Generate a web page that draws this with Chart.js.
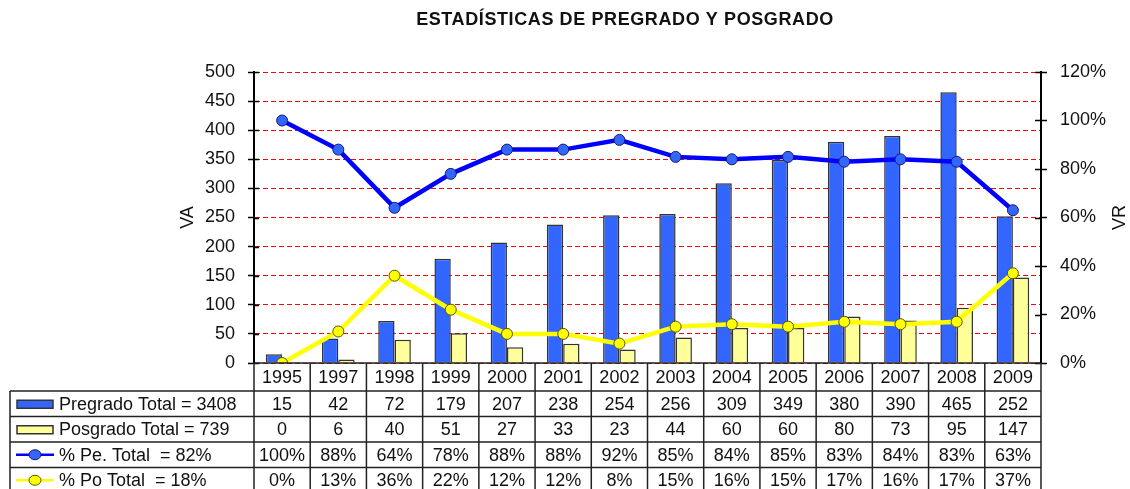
<!DOCTYPE html>
<html>
<head>
<meta charset="utf-8">
<title>Estadísticas de pregrado y posgrado</title>
<script src="https://cdn.jsdelivr.net/npm/chart.js@4.4.1/dist/chart.umd.min.js"></script>
<style>
  html, body { margin: 0; padding: 0; background: #fff; }
  #wrap { width: 1130px; height: 489px; }
</style>
</head>
<body>
<div id="wrap"><canvas id="statsChart"></canvas></div>
<script>
const chartTitle = 'ESTADÍSTICAS DE PREGRADO Y POSGRADO';
const years = ['1995', '1997', '1998', '1999', '2000', '2001', '2002', '2003', '2004', '2005', '2006', '2007', '2008', '2009'];
const pregrado = [15, 42, 72, 179, 207, 238, 254, 256, 309, 349, 380, 390, 465, 252];
const posgrado = [0, 6, 40, 51, 27, 33, 23, 44, 60, 60, 80, 73, 95, 147];
const pctPregrado = [100, 88, 64, 78, 88, 88, 92, 85, 84, 85, 83, 84, 83, 63];
const pctPosgrado = [0, 13, 36, 22, 12, 12, 8, 15, 16, 15, 17, 16, 17, 37];
const rowLabels = ['Pregrado Total = 3408', 'Posgrado Total = 739', '% Pe. Total  = 82%', '% Po Total  = 18%'];

const FONT = '"Liberation Sans", Arial, sans-serif';
const FONT_SIZE = 18;
const BLUE = '#3366FF';
const YELLOW_BAR = '#FFFF99';
const LINE_BLUE = '#0000FF';
const LINE_YELLOW = '#FFFF00';

// title, right axis caption, inner tick marks and the data table under the plot
const extras = {
    id: 'extras',
    afterDraw(chart) {
        const ctx = chart.ctx;
        const area = chart.chartArea;
        const xs = chart.scales.x;
        const colW = (area.right - area.left) / years.length;

        ctx.save();
        ctx.fillStyle = '#111';
        ctx.font = 'bold 18px ' + FONT;
        ctx.textAlign = 'center';
        ctx.textBaseline = 'middle';
        ctx.letterSpacing = '0.6px';
        ctx.fillText(chartTitle, 625, 20);
        ctx.letterSpacing = '0px';

        // VR reads bottom to top like VA
        ctx.save();
        ctx.translate(1120, (area.top + area.bottom) / 2);
        ctx.rotate(-Math.PI / 2);
        ctx.font = FONT_SIZE + 'px ' + FONT;
        ctx.fillText('VR', 0, 0);
        ctx.restore();

        // tick marks cross both axes
        ctx.strokeStyle = '#000';
        ctx.lineWidth = 1.5;
        ctx.beginPath();
        chart.scales.y.ticks.forEach(t => {
            const py = Math.round(chart.scales.y.getPixelForValue(t.value)) + 0.5;
            ctx.moveTo(area.left, py);
            ctx.lineTo(area.left + 5, py);
        });
        chart.scales.yR.ticks.forEach(t => {
            const py = Math.round(chart.scales.yR.getPixelForValue(t.value)) + 0.5;
            ctx.moveTo(area.right - 6, py);
            ctx.lineTo(area.right, py);
        });
        ctx.stroke();

        const rowH = [28, 25.5, 25.5, 25.5, 25.5];
        const rowY = [area.bottom];
        rowH.forEach(h => rowY.push(rowY[rowY.length - 1] + h));
        const tableLeft = 10;

        ctx.strokeStyle = '#222';
        ctx.lineWidth = 1.5;
        ctx.beginPath();
        // horizontal rules
        ctx.moveTo(area.left, rowY[0]);
        ctx.lineTo(area.right, rowY[0]);
        for (let r = 1; r < rowY.length; r++) {
            ctx.moveTo(tableLeft, rowY[r]);
            ctx.lineTo(area.right, rowY[r]);
        }
        // vertical rules
        ctx.moveTo(tableLeft, rowY[1]);
        ctx.lineTo(tableLeft, rowY[rowY.length - 1]);
        for (let i = 0; i <= years.length; i++) {
            const cx = i < years.length ? xs.getPixelForValue(i) - colW / 2 : area.right;
            ctx.moveTo(cx, rowY[0]);
            ctx.lineTo(cx, rowY[rowY.length - 1]);
        }
        ctx.stroke();

        const rows = [
            years,
            pregrado,
            posgrado,
            pctPregrado.map(v => v + '%'),
            pctPosgrado.map(v => v + '%')
        ];
        ctx.fillStyle = '#111';
        ctx.font = FONT_SIZE + 'px ' + FONT;
        ctx.textAlign = 'center';
        ctx.textBaseline = 'middle';
        rows.forEach((vals, r) => {
            const cy = (rowY[r] + rowY[r + 1]) / 2 + 1;
            vals.forEach((v, i) => ctx.fillText(String(v), xs.getPixelForValue(i), cy));
        });

        // row captions with their keys
        ctx.textAlign = 'left';
        rowLabels.forEach((label, k) => {
            const cy = (rowY[k + 1] + rowY[k + 2]) / 2 + 1;
            ctx.fillStyle = '#111';
            ctx.fillText(label, 59, cy);
            ctx.lineWidth = 1.5;
            if (k < 2) {
                ctx.fillStyle = k === 0 ? BLUE : YELLOW_BAR;
                ctx.fillRect(17, cy - 4.5, 36, 8);
                ctx.strokeStyle = '#333';
                ctx.strokeRect(17, cy - 4.5, 36, 8);
            } else {
                ctx.strokeStyle = k === 2 ? LINE_BLUE : LINE_YELLOW;
                ctx.lineWidth = 2.5;
                ctx.beginPath();
                ctx.moveTo(16, cy - 1);
                ctx.lineTo(54, cy - 1);
                ctx.stroke();
                ctx.beginPath();
                ctx.ellipse(35, cy - 1, 6, 5, 0, 0, Math.PI * 2);
                ctx.fillStyle = k === 2 ? BLUE : LINE_YELLOW;
                ctx.fill();
                ctx.lineWidth = 1;
                ctx.strokeStyle = k === 2 ? '#1a1a66' : '#555500';
                ctx.stroke();
            }
        });
        ctx.restore();
    }
};

const ctx = document.getElementById('statsChart').getContext('2d');
new Chart(ctx, {
    type: 'bar',
    data: {
        labels: years,
        datasets: [
            {
                type: 'line',
                label: '% Pe. Total',
                data: pctPregrado,
                yAxisID: 'yR',
                borderColor: LINE_BLUE,
                borderWidth: 4.5,
                pointRadius: 5.5,
                pointBackgroundColor: BLUE,
                pointBorderColor: '#1a1a66',
                pointBorderWidth: 1,
                tension: 0,
                order: 0
            },
            {
                type: 'line',
                label: '% Po Total',
                data: pctPosgrado,
                yAxisID: 'yR',
                borderColor: LINE_YELLOW,
                borderWidth: 4.5,
                pointRadius: 5.5,
                pointBackgroundColor: LINE_YELLOW,
                pointBorderColor: '#555500',
                pointBorderWidth: 1,
                tension: 0,
                order: 1
            },
            {
                label: 'Pregrado Total',
                data: pregrado,
                yAxisID: 'y',
                backgroundColor: BLUE,
                borderColor: '#333',
                borderWidth: 1.5,
                order: 2
            },
            {
                label: 'Posgrado Total',
                data: posgrado,
                yAxisID: 'y',
                backgroundColor: YELLOW_BAR,
                borderColor: '#333',
                borderWidth: 1.5,
                order: 3
            }
        ]
    },
    options: {
        responsive: true,
        maintainAspectRatio: false,
        animation: false,
        datasets: { bar: { barPercentage: 1, categoryPercentage: 0.58 } },
        layout: { padding: { top: 72, bottom: 126, left: 0, right: 0 } },
        plugins: {
            legend: { display: false },
            tooltip: { enabled: false },
            title: { display: false }
        },
        scales: {
            x: { display: false, offset: true },
            y: {
                position: 'left',
                min: 0,
                max: 500,
                ticks: { stepSize: 50, color: '#111', padding: 13, font: { family: FONT, size: FONT_SIZE } },
                grid: { color: '#FF0000', lineWidth: 1, tickColor: '#000', tickWidth: 1.5, tickLength: 6 },
                border: { display: true, color: '#000', width: 2, dash: [5, 3] },
                title: { display: true, text: 'VA', color: '#111', font: { family: FONT, size: FONT_SIZE }, padding: { top: 177 } },
                afterFit: s => { s.width = 254; }
            },
            yR: {
                position: 'right',
                min: 0,
                max: 120,
                ticks: { stepSize: 20, color: '#111', padding: 13, font: { family: FONT, size: FONT_SIZE }, callback: v => v + '%' },
                grid: { drawOnChartArea: false, tickColor: '#000', tickWidth: 1.5, tickLength: 6 },
                border: { display: true, color: '#000', width: 2 },
                afterFit: s => { s.width = 89; }
            }
        }
    },
    plugins: [extras]
});
</script>
</body>
</html>
